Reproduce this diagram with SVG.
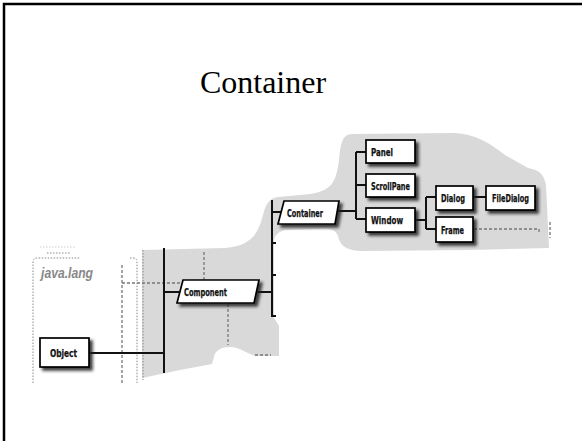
<svg xmlns="http://www.w3.org/2000/svg" width="582" height="441" viewBox="0 0 582 441">
<style>
.box{fill:#fff;stroke:#000;stroke-width:1.7;filter:url(#sh)}
.lbl{font-family:"DejaVu Sans Condensed","Liberation Sans Narrow","Liberation Sans",sans-serif;font-weight:bold;font-size:11px;fill:#111;stroke:#111;stroke-width:0.25}
.ln{stroke:#111;stroke-width:2;fill:none}
.dash{stroke:#777;stroke-width:1.3;stroke-dasharray:3 2;fill:none}
.dot{stroke:#888;stroke-width:1;stroke-dasharray:1.5 1.5;fill:none}
</style>
<defs>
<filter id="sh" x="-20%" y="-30%" width="150%" height="180%">
<feDropShadow dx="3" dy="3" stdDeviation="1.4" flood-color="#222" flood-opacity="0.85"/>
</filter>
</defs>
<rect width="582" height="441" fill="#fff"/>
<path d="M4,441 V4 H582" fill="none" stroke="#000" stroke-width="2.5"/>
<text x="263" y="93" text-anchor="middle" font-family="Liberation Serif,serif" font-size="32" fill="#000">Container</text>

<g id="background">
<path d="M142,378 L142,250 L225,248 C250,246 258,235 263,215 C266,203 270,198 278,197 L300,195 C330,193 336,185 339,160 C341,140 343,135 352,134 L455,133 C475,134 490,143 505,155 L528,168 C540,170 544,175 546,185 L549,248 L470,250 L360,251 C345,250 340,245 338,236 C336,230 330,228 320,229 L285,230 C278,232 275,235 274,240 L274,318 L279,326 L279,356 L255,356 C245,352 238,347 230,347 C222,347 215,350 214,357 L212,364 L180,370 Z" fill="#d9d9d9"/>
</g>

<g id="java-lang">
<path d="M40,247 H75" stroke="#ccc" stroke-width="1" stroke-dasharray="1.5 1.5"/>
<path d="M47,253 H70" class="dot"/>
<path d="M33,383 V262 Q33,258 37,258 H80" class="dot"/>
<text x="41" y="278" font-family="Liberation Sans,sans-serif" font-weight="bold" font-style="italic" font-size="15" fill="#888" textLength="52" lengthAdjust="spacingAndGlyphs">java.lang</text>
<path d="M130,258 H133 Q137,258 137,262 V383" class="dot"/>
<path d="M122,265 V383" class="dash"/>
<path d="M143,250 V380" class="dot"/>
</g>

<g id="connectors">
<path d="M122,283 H180" class="dash"/>
<path d="M204,252 V280" class="dash"/>
<path d="M228,304 V345" class="dash"/>
<path d="M255,355 H271" class="dash"/>
<path d="M474,229 H539 V232" class="dash"/>
<path d="M550,222 V238" class="dash"/>
<path d="M89,353 H164" class="ln"/>
<path d="M164,248 V373" class="ln"/>
<path d="M164,292 H180" class="ln"/>
<path d="M256,292 H272" class="ln"/>
<path d="M272,200 V317" class="ln"/>
<path d="M272,243 H276 M272,275 H276 M272,316 H276" class="ln"/>
<path d="M272,212 H282" class="ln"/>
<path d="M337,211 H356" class="ln"/>
<path d="M356,152 V219" class="ln"/>
<path d="M356,152 H366 M356,185 H366 M356,219 H366" class="ln"/>
<path d="M415,220 H426" class="ln"/>
<path d="M426,197 V229" class="ln"/>
<path d="M426,197 H436 M426,229 H436" class="ln"/>
<path d="M473,197 H486" class="ln"/>
</g>

<g id="Object">
<rect x="40" y="338" width="49" height="29" class="box"/>
<text x="50" y="357" class="lbl" textLength="27" lengthAdjust="spacingAndGlyphs">Object</text>
</g>
<g id="Component">
<polygon points="183,280 259,280 254,303 177,303" class="box"/>
<text x="184" y="295.5" class="lbl" textLength="43" lengthAdjust="spacingAndGlyphs">Component</text>
</g>
<g id="Container">
<polygon points="284,201 339,201 335,224 278,224" class="box"/>
<text x="287" y="216.5" class="lbl" textLength="36" lengthAdjust="spacingAndGlyphs">Container</text>
</g>
<g id="Panel">
<rect x="366" y="140" width="49" height="23" class="box"/>
<text x="371" y="155.5" class="lbl" textLength="22" lengthAdjust="spacingAndGlyphs">Panel</text>
</g>
<g id="ScrollPane">
<rect x="366" y="174" width="49" height="23" class="box"/>
<text x="371" y="189.5" class="lbl" textLength="39" lengthAdjust="spacingAndGlyphs">ScrollPane</text>
</g>
<g id="Window">
<rect x="366" y="208" width="49" height="24" class="box"/>
<text x="371" y="223.5" class="lbl" textLength="32" lengthAdjust="spacingAndGlyphs">Window</text>
</g>
<g id="Dialog">
<rect x="436" y="186" width="37" height="24" class="box"/>
<text x="441" y="201.5" class="lbl" textLength="24" lengthAdjust="spacingAndGlyphs">Dialog</text>
</g>
<g id="Frame">
<rect x="436" y="217" width="37" height="25" class="box"/>
<text x="441" y="233.5" class="lbl" textLength="23" lengthAdjust="spacingAndGlyphs">Frame</text>
</g>
<g id="FileDialog">
<rect x="486" y="186" width="49" height="24" class="box"/>
<text x="492" y="201.5" class="lbl" textLength="37" lengthAdjust="spacingAndGlyphs">FileDialog</text>
</g>
</svg>
